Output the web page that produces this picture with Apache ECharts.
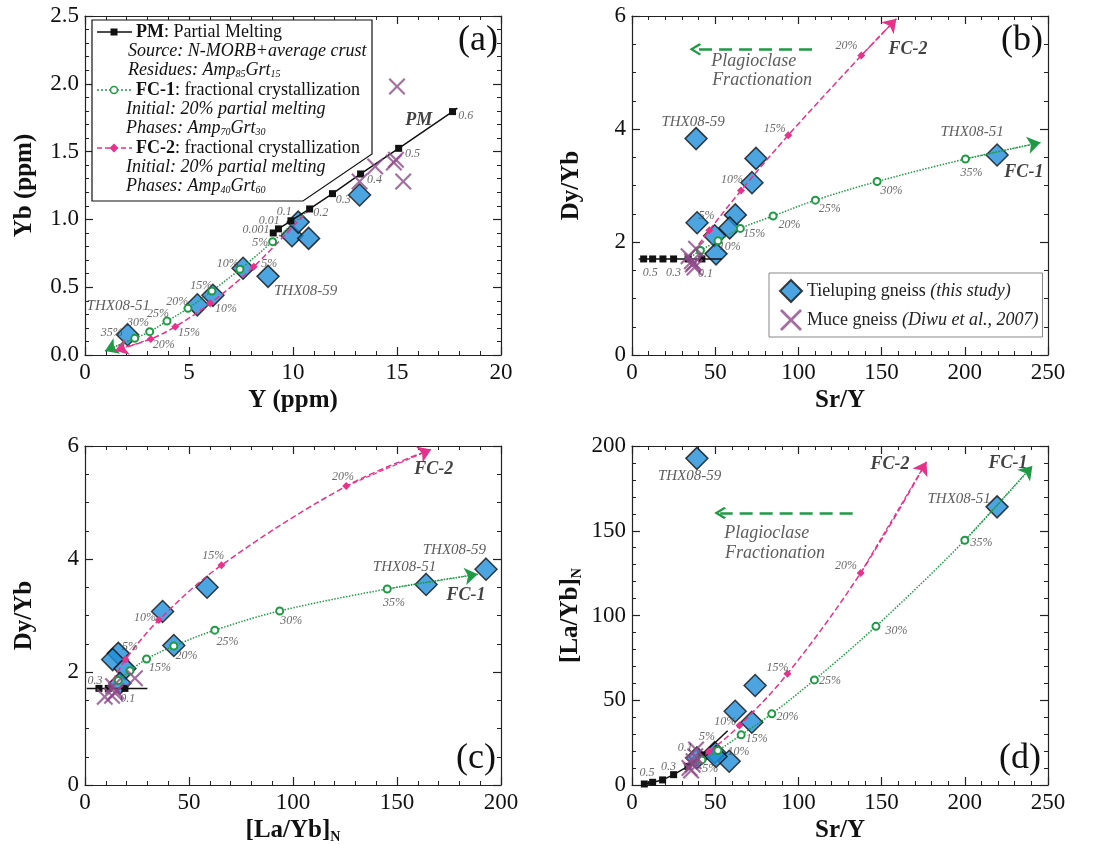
<!DOCTYPE html>
<html>
<head>
<meta charset="utf-8">
<script src="https://cdn.jsdelivr.net/npm/echarts@6/dist/echarts.min.js"></script>
<style>
  html, body { margin: 0; padding: 0; background: #fff; }
  #main { width: 1093px; height: 845px; }
</style>
</head>
<body>
<div id="main"></div>
<script>
// ---- data ----
// (a) Y (ppm) vs Yb (ppm)
const tieA = [[2.05,0.15],[5.4,0.37],[6.15,0.44],[7.6,0.64],[8.8,0.58],[9.95,0.88],[10.25,0.98],[10.75,0.86],[13.2,1.18]];
const muceA = [[15,1.98],[13.95,1.39],[14.85,1.42],[14.95,1.44],[15.3,1.28],[13.2,1.28]];
const pmA = [[9.05,0.9],[9.3,0.93],[9.9,0.99],[10.8,1.077],[11.9,1.19],[13.25,1.335],[15.08,1.524],[17.67,1.795]];
const pmEndsA = [null, [17.9,1.82]];
const fc1A = [[9.02,0.836],[7.45,0.632],[6.1,0.472],[4.95,0.344],[3.94,0.25],[3.11,0.172],[2.39,0.123]];
const fc1EndsA = [[10.8,1.077],[0.96,0.03]];
const fc2A = [[8.11,0.651],[6.02,0.381],[4.34,0.209],[3.16,0.118]];
const fc2EndsA = [[10.8,1.077],[1.44,0.032]];

// (b) Sr/Y vs Dy/Yb
const tieB = [[38.5,3.83],[74.5,3.48],[72.1,3.05],[39.1,2.34],[62.1,2.48],[58.7,2.25],[49.7,2.11],[50.5,1.79],[219.4,3.54]];
const muceB = [[34,1.75],[38.5,1.88],[36.5,1.6],[37.5,1.55],[36,1.66],[37.2,1.63]];
const pmB = [[7,1.7],[12.4,1.7],[18.6,1.7],[25,1.7],[33.7,1.7],[42,1.7]];
const pmEndsB = [[4,1.7],[54,1.7]];
const fc1B = [[41.1,1.85],[51.7,2.02],[65.1,2.24],[84.8,2.46],[110.2,2.74],[147.3,3.07],[200.4,3.47]];
const fc1EndsB = [[33.7,1.7],[245.5,3.76]];
const fc2B = [[46.5,2.21],[65.5,2.91],[93.9,3.89],[137.8,5.3]];
const fc2EndsB = [[33.7,1.7],[158.9,5.95]];

// (c) [La/Yb]N vs Dy/Yb
const tieC = [[192.8,3.82],[164,3.55],[58.7,3.5],[37.3,3.07],[42.7,2.47],[16,2.33],[13.3,2.22],[19.2,2.06],[16.8,1.8]];
const muceC = [[9.5,1.56],[13.5,1.75],[14.5,1.63],[24,1.89],[13,1.58],[15,1.66]];
const pmC = [[6.7,1.71],[11.2,1.71],[19.2,1.71]];
const pmEndsC = [[0.8,1.71],[30,1.71]];
const fc1C = [[16,1.85],[21.6,2.02],[29.6,2.23],[42.7,2.46],[62.4,2.74],[93.6,3.08],[145.3,3.47]];
const fc1EndsC = [[11.2,1.71],[188.8,3.73]];
const fc2C = [[19.5,2.22],[35.5,2.92],[65.6,3.89],[125.6,5.29]];
const fc2EndsC = [[11.2,1.71],[166.4,5.94]];

// (d) Sr/Y vs [La/Yb]N
const tieD = [[39,192.7],[219.4,164.1],[74,58.7],[62,43.5],[72,37],[58.4,14],[39,16],[49.7,19.2],[50.5,16.8]];
const muceD = [[38.5,21],[35.5,8.5],[37,14],[36.5,12],[38,17],[34.5,10]];
const pmD = [[7.4,0.6],[12.4,1.6],[18.4,3],[25,6.1],[33.6,11],[42,17.7]];
const pmEndsD = [null,[57.5,32]];
const fc1D = [[42,14.8],[51.6,20.3],[65.6,29.6],[84,42],[109.6,62],[146.6,93.6],[200,144.4]];
const fc1EndsD = [[33.6,11],[240.6,188.2]];
const fc2D = [[46.4,19.7],[64.6,35.1],[93.4,65.6],[137.4,125.1]];
const fc2EndsD = [[33.6,11],[177,190.7]];

// text annotations [x, y, text]
const pctA = [[8.22,0.92,'0.001'],[8.86,0.99,'0.01'],[9.58,1.055,'0.1'],[11.33,1.052,'0.2'],[12.42,1.143,'0.3'],[13.92,1.29,'0.4'],[15.75,1.487,'0.5'],[18.3,1.763,'0.6'],
  [8.43,0.828,'5%'],[6.86,0.671,'10%'],[5.59,0.509,'15%'],[4.44,0.393,'20%'],[3.51,0.302,'25%'],[2.55,0.234,'30%'],[1.28,0.167,'35%'],
  [8.86,0.671,'5%'],[6.78,0.337,'10%'],[5.0,0.16,'15%'],[3.78,0.074,'20%']];
const sampleA = [[1.6,0.361,'THX08-51'],[10.61,0.474,'THX08-59']];
const tagA = [[16.04,1.733,'PM']];

const pctB = [[11,1.46,'0.5'],[25,1.46,'0.3'],[44.1,1.43,'0.1'],
  [58.7,1.92,'10%'],[73.5,2.15,'15%'],[94.6,2.3,'20%'],[118.8,2.58,'25%'],[155.9,2.91,'30%'],[204,3.22,'35%'],
  [44.7,2.46,'5%'],[60.1,3.1,'10%'],[85.8,4.01,'15%'],[128.9,5.47,'20%']];
const sampleB = [[36.7,4.13,'THX08-59'],[204.4,3.94,'THX08-51']];
const tagB = [[165.9,5.41,'FC-2'],[235.5,3.24,'FC-1']];
const plagB = [[73.1,5.19,'Plagioclase'],[78.2,4.87,'Fractionation']];
const plagArrowB = [[108.2,5.41],[38.1,5.41]];

const pctC = [[4.8,1.84,'0.3'],[20.5,1.53,'0.1'],
  [36,2.08,'15%'],[48.8,2.28,'20%'],[68.5,2.54,'25%'],[99.2,2.9,'30%'],[148.5,3.22,'35%'],
  [21.6,2.45,'5%'],[28.8,2.95,'10%'],[61.6,4.05,'15%'],[124,5.45,'20%']];
const sampleC = [[177.6,4.15,'THX08-59'],[153.6,3.86,'THX08-51']];
const tagC = [[167.7,5.58,'FC-2'],[183.2,3.36,'FC-1']];

const pctD = [[9,7.1,'0.5'],[22,11,'0.3'],[32,21.7,'0.1'],
  [47,9.5,'5%'],[64,19.3,'10%'],[75,27.2,'15%'],[93.4,40.4,'20%'],[119,61.3,'25%'],[159,90.8,'30%'],[210,142.9,'35%'],
  [45,28.2,'5%'],[56,37.4,'10%'],[87.4,69.2,'15%'],[128.6,129.3,'20%']];
const sampleD = [[34.6,182.3,'THX08-59'],[196.6,168.5,'THX08-51']];
const tagD = [[155,189.2,'FC-2'],[226,189.8,'FC-1']];
const plagD = [[81,148.4,'Plagioclase'],[86,137,'Fractionation']];
const plagArrowD = [[132.6,160.5],[53,160.5]];

// ---- styling ----
const SERIF = '"Liberation Serif", "DejaVu Serif", serif';
const BLUE = '#1f8fd8', PURPLE = '#8e4a88', GREEN = '#1f9a45', MAGENTA = '#e8318a';
const XPATH = 'path://M0,1.8L1.8,0L10,8.2L18.2,0L20,1.8L11.8,10L20,18.2L18.2,20L10,11.8L1.8,20L0,18.2L8.2,10Z';
const CHEVRON = 'path://M0,9L9,0L18,9L16,11L9,4L2,11Z';

const grids = [
  { left: 85, top: 16, width: 416, height: 339 },
  { left: 632, top: 16, width: 416, height: 339 },
  { left: 85, top: 446, width: 416, height: 339 },
  { left: 632, top: 446, width: 416, height: 339 }
];
const axesSpec = [
  { x: [0, 20, 5, 5], y: [0, 2.5, 0.5, 5], xName: 'Y (ppm)', yName: 'Yb (ppm)', yFmt: v => v.toFixed(1) },
  { x: [0, 250, 50, 5], y: [0, 6, 2, 4], xName: 'Sr/Y', yName: 'Dy/Yb' },
  { x: [0, 200, 50, 5], y: [0, 6, 2, 4], xName: '{m|[La/Yb]}{s|N}', yName: 'Dy/Yb' },
  { x: [0, 250, 50, 5], y: [0, 200, 50, 5], xName: 'Sr/Y', yName: '{m|[La/Yb]}{s|N}' }
];
const nameRich = {
  m: { fontFamily: SERIF, fontSize: 25, fontWeight: 'bold', color: '#111' },
  s: { fontFamily: SERIF, fontSize: 14, fontWeight: 'bold', color: '#111', padding: [12, 0, 0, 0] }
};

function axis(gi, dim, pos, spec) {
  const main = pos === 'bottom' || pos === 'left';
  const r = spec[dim];
  return {
    type: 'value', gridIndex: gi, position: pos,
    min: r[0], max: r[1], interval: r[2],
    name: main ? spec[dim + 'Name'] : '',
    nameLocation: 'middle',
    nameGap: dim === 'x' ? 33 : 48,
    nameTextStyle: { fontFamily: SERIF, fontSize: 25, fontWeight: 'bold', color: '#111', rich: nameRich },
    axisLine: { show: true, onZero: false, lineStyle: { color: '#222', width: 1.2 } },
    axisTick: { show: true, inside: true, length: 8, lineStyle: { color: '#222', width: 1.2 } },
    minorTick: { show: true, splitNumber: r[3], length: 4, lineStyle: { color: '#222', width: 1 } },
    splitLine: { show: false },
    axisLabel: {
      show: main, fontFamily: SERIF, fontSize: 23, color: '#111', margin: 6,
      formatter: dim === 'y' && spec.yFmt ? spec.yFmt : (v => String(v))
    }
  };
}

const xAxes = [], yAxes = [];
grids.forEach((g, i) => {
  xAxes.push(axis(i, 'x', 'bottom', axesSpec[i]), axis(i, 'x', 'top', axesSpec[i]));
  yAxes.push(axis(i, 'y', 'left', axesSpec[i]), axis(i, 'y', 'right', axesSpec[i]));
});

function withEnds(pts, ends) {
  const out = pts.map(p => p);
  if (ends[0]) out.unshift({ value: ends[0], symbol: 'none' });
  if (ends[1]) out.push({ value: ends[1], symbol: 'none' });
  return out;
}
function ax(gi) { return { xAxisIndex: 2 * gi, yAxisIndex: 2 * gi }; }

function tie(gi, data) {
  return Object.assign({ name: 'Tieluping gneiss', type: 'scatter', data, symbol: 'diamond', symbolSize: 22,
    itemStyle: { color: BLUE, borderColor: '#111', borderWidth: 1.5 }, z: 2 }, ax(gi));
}
function muce(gi, data) {
  return Object.assign({ name: 'Muce gneiss', type: 'scatter', data, symbol: XPATH, symbolSize: 17,
    itemStyle: { color: PURPLE }, z: 4 }, ax(gi));
}
function pm(gi, pts, ends) {
  return Object.assign({ type: 'line', data: withEnds(pts, ends), symbol: 'rect', symbolSize: 7,
    lineStyle: { color: '#111', width: 1.5 }, itemStyle: { color: '#111' }, z: 3 }, ax(gi));
}
function fc(gi, pts, ends, color, dash, sym, size) {
  return Object.assign({ type: 'line', data: withEnds(pts, ends), smooth: 0.35,
    symbol: sym, symbolSize: size,
    lineStyle: { color, width: 1.5, type: dash }, itemStyle: { color, borderWidth: 1.5 }, z: 3
  }, ax(gi));
}
// arrow head at the end of an FC curve, along its last segment
function fcArrow(gi, pts, ends, color, dash) {
  return Object.assign({ type: 'lines', coordinateSystem: 'cartesian2d', silent: true, z: 3,
    symbol: ['none', 'arrow'], symbolSize: 13,
    lineStyle: { color, width: 1.2, type: dash, opacity: 1 },
    data: [{ coords: [pts[pts.length - 1], ends[1]] }] }, ax(gi));
}
function txt(gi, data, style) {
  return Object.assign({ type: 'scatter', data, symbolSize: 1, silent: true, z: 10,
    itemStyle: { color: 'rgba(0,0,0,0)' },
    label: Object.assign({ show: true, position: 'inside', formatter: p => p.data[2], fontFamily: SERIF }, style)
  }, ax(gi));
}
function plagArrow(gi, coords) {
  return Object.assign({ type: 'lines', coordinateSystem: 'cartesian2d', silent: true, z: 3,
    symbol: ['none', CHEVRON], symbolSize: [18, 12],
    lineStyle: { color: GREEN, width: 2.5, type: [13, 7], opacity: 1 },
    data: [{ coords }] }, ax(gi));
}

const pctStyle = { fontStyle: 'italic', fontSize: 12, color: '#444' };
const sampleStyle = { fontStyle: 'italic', fontSize: 15, color: '#333' };
const tagStyle = { fontStyle: 'italic', fontWeight: 'bold', fontSize: 18, color: '#111' };
const plagStyle = { fontStyle: 'italic', fontSize: 18, color: '#333' };

function panel(gi, tieD_, muceD_, pmPts, pmEnds, f1, f1Ends, f2, f2Ends) {
  return [
    tie(gi, tieD_), muce(gi, muceD_), pm(gi, pmPts, pmEnds),
    fc(gi, f1, f1Ends, GREEN, 'dotted', 'emptyCircle', 7),
    fc(gi, f2, f2Ends, MAGENTA, 'dashed', 'diamond', 8),
    fcArrow(gi, f1, f1Ends, GREEN, 'dotted'), fcArrow(gi, f2, f2Ends, MAGENTA, 'dashed')
  ];
}

const series = [].concat(
  panel(0, tieA, muceA, pmA, pmEndsA, fc1A, fc1EndsA, fc2A, fc2EndsA),
  [txt(0, pctA, pctStyle), txt(0, sampleA, sampleStyle), txt(0, tagA, tagStyle)],
  panel(1, tieB, muceB, pmB, pmEndsB, fc1B, fc1EndsB, fc2B, fc2EndsB),
  [txt(1, pctB, pctStyle), txt(1, sampleB, sampleStyle), txt(1, tagB, tagStyle), txt(1, plagB, plagStyle), plagArrow(1, plagArrowB)],
  panel(2, tieC, muceC, pmC, pmEndsC, fc1C, fc1EndsC, fc2C, fc2EndsC),
  [txt(2, pctC, pctStyle), txt(2, sampleC, sampleStyle), txt(2, tagC, tagStyle)],
  panel(3, tieD, muceD, pmD, pmEndsD, fc1D, fc1EndsD, fc2D, fc2EndsD),
  [txt(3, pctD, pctStyle), txt(3, sampleD, sampleStyle), txt(3, tagD, tagStyle), txt(3, plagD, plagStyle), plagArrow(3, plagArrowD)]
);

// legend text of panel (a), drawn as graphics
const lgRich = {
  b: { fontFamily: SERIF, fontSize: 18, fontWeight: 'bold', color: '#111' },
  r: { fontFamily: SERIF, fontSize: 18, color: '#111' },
  i: { fontFamily: SERIF, fontSize: 18, fontStyle: 'italic', color: '#111' },
  s: { fontFamily: SERIF, fontSize: 10, fontStyle: 'italic', color: '#111', padding: [9, 0, 0, 0] }
};
const lgRows = [
  [136, 32, '{b|PM}{r|: Partial Melting}'],
  [128, 51, '{i|Source: N-MORB+average crust}'],
  [128, 70, '{i|Residues: Amp}{s|85}{i|Grt}{s|15}'],
  [136, 90, '{b|FC-1}{r|: fractional crystallization}'],
  [126, 109, '{i|Initial: 20% partial melting}'],
  [126, 128, '{i|Phases: Amp}{s|70}{i|Grt}{s|30}'],
  [136, 148, '{b|FC-2}{r|: fractional crystallization}'],
  [126, 167, '{i|Initial: 20% partial melting}'],
  [126, 186, '{i|Phases: Amp}{s|40}{i|Grt}{s|60}']
];
const graphic = [
  { type: 'polygon', z: 20, shape: { points: [[92, 20], [372, 20], [372, 154], [303, 201], [92, 201]] },
    style: { fill: '#fff', stroke: '#111', lineWidth: 1.2 } },
  { type: 'line', z: 21, shape: { x1: 97, y1: 32, x2: 132, y2: 32 }, style: { stroke: '#111', lineWidth: 1.5 } },
  { type: 'rect', z: 22, shape: { x: 110.5, y: 28.5, width: 7, height: 7 }, style: { fill: '#111' } },
  { type: 'line', z: 21, shape: { x1: 97, y1: 90, x2: 132, y2: 90 }, style: { stroke: GREEN, lineWidth: 1.5, lineDash: [2, 2] } },
  { type: 'circle', z: 22, shape: { cx: 114, cy: 90, r: 3.5 }, style: { fill: '#fff', stroke: GREEN, lineWidth: 1.5 } },
  { type: 'line', z: 21, shape: { x1: 97, y1: 148, x2: 132, y2: 148 }, style: { stroke: MAGENTA, lineWidth: 1.5, lineDash: [5, 3] } },
  { type: 'polygon', z: 22, shape: { points: [[114, 143.5], [118.5, 148], [114, 152.5], [109.5, 148]] }, style: { fill: MAGENTA } }
].concat(lgRows.map(r => ({
  type: 'text', z: 22, x: r[0], y: r[1],
  style: { text: r[2], rich: lgRich, fontFamily: SERIF, fontSize: 18, verticalAlign: 'middle', align: 'left', fill: '#111' }
}))).concat([
  ['(a)', 478, 41], ['(b)', 1022, 41], ['(c)', 476, 759], ['(d)', 1020, 759]
].map(t => ({
  type: 'text', z: 22, x: t[1], y: t[2],
  style: { text: t[0], fontFamily: SERIF, fontSize: 36, fill: '#111', align: 'center', verticalAlign: 'middle' }
})));

const chart = echarts.init(document.getElementById('main'), null, { renderer: 'canvas' });
chart.setOption({
  animation: false,
  backgroundColor: '#fff',
  grid: grids,
  xAxis: xAxes,
  yAxis: yAxes,
  legend: {
    left: 769, top: 273, orient: 'vertical',
    data: ['Tieluping gneiss', 'Muce gneiss'],
    itemWidth: 22, itemHeight: 22, itemGap: 6,
    padding: [6, 4, 6, 10],
    borderColor: '#888', borderWidth: 1, backgroundColor: '#fff',
    selectedMode: false,
    formatter: n => n === 'Tieluping gneiss'
      ? '{n|Tieluping gneiss }{i|(this study)}'
      : '{n|Muce gneiss }{i|(Diwu et al., 2007)}',
    textStyle: {
      rich: {
        n: { fontFamily: SERIF, fontSize: 18, color: '#222' },
        i: { fontFamily: SERIF, fontSize: 18, fontStyle: 'italic', color: '#222' }
      }
    }
  },
  graphic,
  series
});
</script>
</body>
</html>
